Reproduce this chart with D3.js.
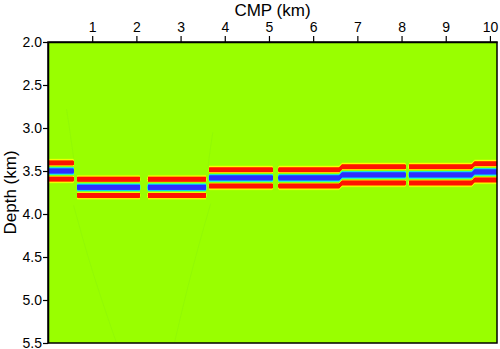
<!DOCTYPE html>
<html>
<head>
<meta charset="utf-8">
<script src="https://cdn.jsdelivr.net/npm/d3@7"></script>
<style>
body { margin: 0; background: #fff; }
</style>
</head>
<body>
<div id="chart"></div>
<script>
// block edges along the line (km) and reflector depth in each block (km)
var cmpBreaks = [0.62, 2.17, 3.61, 5.15, 6.62, 8.13, 9.62];
var blockDepth = [3.50, 3.69, 3.69, 3.58, 3.58, 3.545, 3.545, 3.51];
// what each break looks like: gap width in km, or a smooth ramp
var breakGap = [0.03, 0.13, 0.02, 0.08, 0, 0.025, 0];
var breakRamp = [false, false, false, false, true, false, true];

// wavelet: offset from reflector (km) vs amplitude
var waveOffset = [0, 0.012, 0.023, 0.035, 0.047, 0.054, 0.064, 0.076, 0.09, 0.105, 0.117, 0.13, 0.145, 0.175, 0.235];
var waveAmp = [-1, -0.93, -0.74, -0.45, -0.17, 0, 0.2, 0.36, 0.45, 0.38, 0.28, 0.15, 0.07, 0.02, 0];

var xTicks = [1, 2, 3, 4, 5, 6, 7, 8, 9, 10];
var yTicks = [2.0, 2.5, 3.0, 3.5, 4.0, 4.5, 5.0, 5.5];

// faint migration smiles (km, km)
var smiles = [
	[[0.42, 2.78], [0.5, 3.05], [0.58, 3.35]],
	[[0.58, 3.9], [0.98, 4.65], [1.55, 5.5]],
	[[3.68, 3.88], [3.25, 4.65], [2.86, 5.5]],
	[[3.73, 3.05], [3.67, 3.25], [3.62, 3.45]]
];

var W = 500, H = 349;
var mLeft = 48, mRight = 497, mTop = 42, mBottom = 343;

var x = d3.scaleLinear().domain([0, 10.16]).range([mLeft, mRight]);
var y = d3.scaleLinear().domain([2, 5.5]).range([mTop, mBottom]);

var wave = d3.scaleLinear().domain(waveOffset).range(waveAmp).clamp(true);

var color = d3.scaleLinear()
	.domain([-0.7, -0.45, -0.25, -0.08, 0.06, 0.14, 0.21, 0.27])
	.range(["#2e2eff", "#00c8ff", "#40ffa0", "#99ff00", "#99ff00", "#ffff00", "#ff8c00", "#ff1400"])
	.clamp(true);

var taperW = 0.04, rampW = 0.045;

function smooth(t) {
	t = Math.max(0, Math.min(1, t));
	return t * t * (3 - 2 * t);
}

// depth and amplitude of the reflector at one CMP
function traceAt(xk) {
	var b = d3.bisectRight(cmpBreaks, xk);
	var depth = blockDepth[b], amp = 1;
	var i, d;
	if (b > 0) {
		i = b - 1;
		d = xk - cmpBreaks[i];
		if (breakRamp[i]) {
			if (d < rampW) depth = blockDepth[i] + (blockDepth[i + 1] - blockDepth[i]) * smooth((d + rampW) / (2 * rampW));
		} else {
			amp *= smooth((d - breakGap[i] / 2) / taperW);
		}
	}
	if (b < cmpBreaks.length) {
		i = b;
		d = cmpBreaks[i] - xk;
		if (breakRamp[i]) {
			if (d < rampW) depth = blockDepth[i] + (blockDepth[i + 1] - blockDepth[i]) * smooth((rampW - d) / (2 * rampW));
		} else {
			amp *= smooth((d - breakGap[i] / 2) / taperW);
		}
	}
	return {depth: depth, amp: amp};
}

// rasterise the section
var pw = mRight - mLeft, ph = mBottom - mTop;
var canvas = document.createElement("canvas");
canvas.width = pw;
canvas.height = ph;
var ctx = canvas.getContext("2d");
var img = ctx.createImageData(pw, ph);
for (var i = 0; i < pw; i++) {
	var tr = traceAt(x.invert(mLeft + i + 0.5));
	for (var j = 0; j < ph; j++) {
		var z = y.invert(mTop + j + 0.5);
		var v = tr.amp * wave(Math.abs(z - tr.depth));
		var c = d3.rgb(color(v));
		var k = (j * pw + i) * 4;
		img.data[k] = c.r;
		img.data[k + 1] = c.g;
		img.data[k + 2] = c.b;
		img.data[k + 3] = 255;
	}
}
ctx.putImageData(img, 0, 0);

var svg = d3.select("#chart")
	.append("svg")
	.attr("width", W)
	.attr("height", H)
	.style("display", "block");

svg.append("image")
	.attr("x", mLeft)
	.attr("y", mTop)
	.attr("width", pw)
	.attr("height", ph)
	.attr("href", canvas.toDataURL());

// faint smiles
var line = d3.line()
	.x(function(d) { return x(d[0]); })
	.y(function(d) { return y(d[1]); })
	.curve(d3.curveBasis);

svg.selectAll("path.smile")
	.data(smiles)
	.enter()
	.append("path")
	.attr("class", "smile")
	.attr("d", line)
	.attr("fill", "none")
	.attr("stroke", "#80ea10")
	.attr("stroke-width", 1)
	.attr("opacity", 0.3);

// frame
svg.append("rect")
	.attr("x", mLeft)
	.attr("y", mTop)
	.attr("width", pw)
	.attr("height", ph)
	.attr("fill", "none")
	.attr("stroke", "#000")
	.attr("stroke-width", 1.5);

var font = "'Liberation Sans', Arial, Helvetica, sans-serif";

var xAxis = d3.axisTop(x)
	.tickValues(xTicks)
	.tickSize(6)
	.tickSizeOuter(0)
	.tickFormat(d3.format("d"));

var yAxis = d3.axisLeft(y)
	.tickValues(yTicks)
	.tickSize(5)
	.tickSizeOuter(0)
	.tickFormat(d3.format(".1f"));

var gx = svg.append("g")
	.attr("transform", "translate(0," + mTop + ")")
	.call(xAxis);
var gy = svg.append("g")
	.attr("transform", "translate(" + mLeft + ",0)")
	.call(yAxis);

[gx, gy].forEach(function(g) {
	g.attr("font-family", font).attr("font-size", 14);
	g.select(".domain").attr("stroke-width", 1.5);
	g.selectAll(".tick line").attr("stroke-width", 1.2);
	g.selectAll(".tick text").attr("fill", "#000");
});
gx.selectAll(".tick text").attr("dy", "-0.1em");
gy.selectAll(".tick text").attr("x", -6).attr("dy", "0.34em");

svg.append("text")
	.attr("x", (mLeft + mRight) / 2)
	.attr("y", 16)
	.attr("text-anchor", "middle")
	.attr("font-family", font)
	.attr("font-size", 17)
	.text("CMP (km)");

svg.append("text")
	.attr("transform", "translate(16," + (mTop + mBottom) / 2 + ") rotate(-90)")
	.attr("text-anchor", "middle")
	.attr("font-family", font)
	.attr("font-size", 17)
	.text("Depth (km)");
</script>
</body>
</html>
